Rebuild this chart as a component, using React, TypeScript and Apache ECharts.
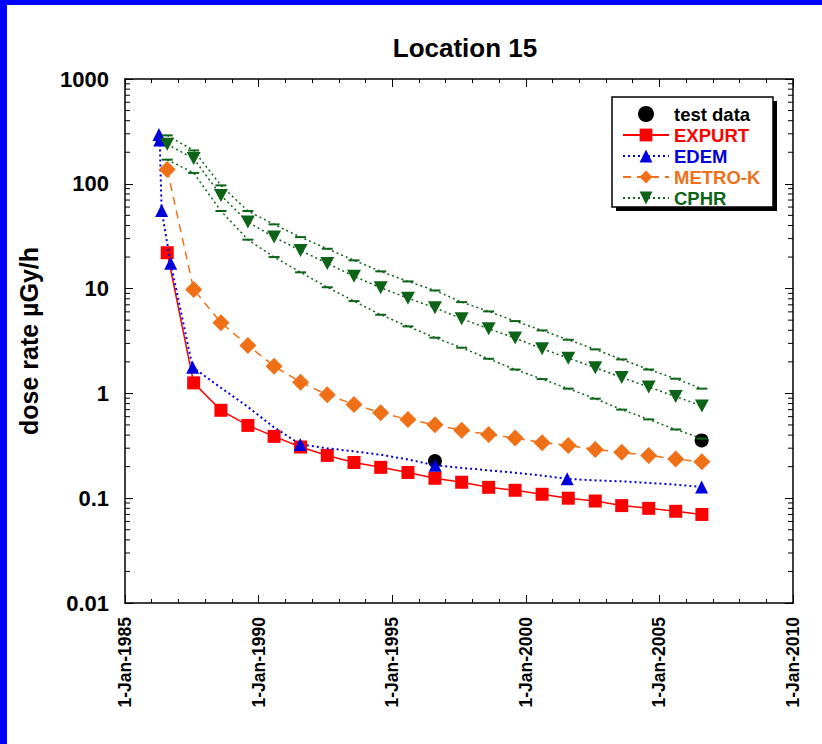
import React, { useEffect, useRef } from "react";
import * as echarts from "echarts";

// ---- data ----
const sampleYears = [
  1986.58, 1987.57, 1988.59, 1989.6, 1990.58, 1991.57, 1992.57, 1993.57, 1994.57, 1995.59,
  1996.6, 1997.6, 1998.61, 1999.6, 2000.61, 2001.59, 2002.6, 2003.59, 2004.6, 2005.61, 2006.59,
];
const expurt = [
  22, 1.26, 0.69, 0.495, 0.389, 0.308, 0.256, 0.219, 0.197, 0.176, 0.155, 0.142, 0.127, 0.119,
  0.109, 0.1, 0.094, 0.085, 0.08, 0.075, 0.07,
];
const metroK = [
  137, 9.8, 4.73, 2.87, 1.82, 1.28, 0.97, 0.785, 0.654, 0.565, 0.502, 0.444, 0.406, 0.375, 0.339,
  0.319, 0.292, 0.274, 0.256, 0.236, 0.223,
];
const cphr = [
  238, 174, 77.5, 43.1, 31, 23.1, 17.4, 13.1, 10.2, 8.1, 6.57, 5.16, 4.14, 3.37, 2.67, 2.17, 1.76,
  1.42, 1.15, 0.935, 0.757,
];
const cphrUpper = [
  290, 208, 96.6, 55, 41, 31, 24, 18.6, 14.6, 11.7, 9.6, 7.43, 6.06, 4.9, 3.99, 3.25, 2.63, 2.11,
  1.69, 1.38, 1.11,
];
const cphrLower = [
  170, 127, 55, 29.3, 20, 14.3, 10.3, 7.6, 5.63, 4.36, 3.4, 2.73, 2.14, 1.69, 1.37, 1.11, 0.89,
  0.7, 0.565, 0.453, 0.37,
];
const edemYears = [
  1986.27, 1986.3, 1986.37, 1986.71, 1987.53, 1988.55, 1989.55, 1990.55, 1991.56, 1992.56, 1993.56,
  1994.56, 1995.56, 1996.61, 1997.56, 1998.56, 1999.56, 2000.56, 2001.55, 2002.56, 2003.56,
  2004.56, 2005.56, 2006.58,
];
const edem = [
  295, 262, 55.7, 17.5, 1.78, 1.15, 0.76, 0.48, 0.326, 0.3, 0.28, 0.26, 0.235, 0.206, 0.195, 0.185,
  0.175, 0.165, 0.153, 0.148, 0.145, 0.14, 0.135, 0.128,
];
const edemMarked = [
  true, true, true, true, true, false, false, false, true, false, false, false, false, true, false,
  false, false, false, true, false, false, false, false, true,
];
const testYears = [1996.6, 2006.58];
const testData = [0.226, 0.356];

const yTickLabels = ["0.01", "0.1", "1", "10", "100", "1000"];
const minorTickValues = [
  0.02, 0.03, 0.04, 0.05, 0.06, 0.07, 0.08, 0.09, 0.2, 0.3, 0.4, 0.5, 0.6, 0.7, 0.8, 0.9, 2, 3, 4,
  5, 6, 7, 8, 9, 20, 30, 40, 50, 60, 70, 80, 90, 200, 300, 400, 500, 600, 700, 800, 900,
];

const X_MIN = 1985;
const X_MAX = 2010;

const FONT = "'Liberation Sans', Arial, sans-serif";
const RED = "#ff0000";
const BLUE = "#0000dd";
const ORANGE = "#f07018";
const GREEN = "#0d6418";

export default function App() {
  const ref = useRef<HTMLDivElement>(null);

  useEffect(() => {
    if (!ref.current) return;
    const chart = echarts.init(ref.current, undefined, { renderer: "svg" });

    const pair = (xs: number[], ys: number[]) => xs.map((x, i) => [x, ys[i]]);

    const xAxisBase = {
      type: "value" as const,
      min: X_MIN,
      max: X_MAX,
      interval: 5,
      splitLine: { show: false },
      axisLine: { show: true, onZero: false, lineStyle: { color: "#000", width: 1.5 } },
      axisTick: { show: true, inside: true, length: 8, lineStyle: { color: "#000", width: 1 } },
      minorTick: { show: true, splitNumber: 5, length: 4, lineStyle: { color: "#000", width: 1 } },
    };
    const yAxisBase = {
      type: "log" as const,
      logBase: 10,
      min: 0.01,
      max: 1000,
      splitLine: { show: false },
      axisLine: { show: true, onZero: false, lineStyle: { color: "#000", width: 1.5 } },
      axisTick: { show: true, inside: true, length: 8, lineStyle: { color: "#000", width: 1 } },
    };

    chart.setOption({
      animation: false,
      backgroundColor: "#fff",
      title: {
        text: "Location 15",
        left: 460,
        top: 30,
        textAlign: "center",
        textStyle: { fontFamily: FONT, fontWeight: "bold", fontSize: 26, color: "#000" },
      },
      grid: { left: 125, top: 79, right: 29, bottom: 141, containLabel: false },
      xAxis: [
        {
          ...xAxisBase,
          position: "bottom",
          axisLabel: {
            rotate: 90,
            margin: 14,
            fontFamily: FONT,
            fontWeight: "bold",
            fontSize: 17.5,
            color: "#000",
            formatter: (v: number) => "1-Jan-" + Math.round(v),
          },
        },
        { ...xAxisBase, position: "top", axisLabel: { show: false } },
      ],
      yAxis: [
        {
          ...yAxisBase,
          position: "left",
          name: "dose rate µGy/h",
          nameLocation: "middle",
          nameGap: 84,
          nameTextStyle: { fontFamily: FONT, fontWeight: "bold", fontSize: 25, color: "#000" },
          axisLabel: {
            margin: 16,
            fontFamily: FONT,
            fontWeight: "bold",
            fontSize: 22,
            color: "#000",
            formatter: (v: number) => yTickLabels[Math.round(Math.log10(v)) + 2] ?? "",
          },
        },
        { ...yAxisBase, position: "right", axisLabel: { show: false } },
      ],
      legend: {
        data: [
          { name: "test data", textStyle: { color: "#000" } },
          { name: "EXPURT", textStyle: { color: RED } },
          { name: "EDEM", textStyle: { color: BLUE } },
          { name: "METRO-K", textStyle: { color: ORANGE } },
          { name: "CPHR", textStyle: { color: GREEN } },
        ],
        orient: "vertical",
        left: 622,
        top: 104.5,
        itemWidth: 46,
        itemHeight: 16,
        itemGap: 2,
        padding: 0,
        selectedMode: false,
        z: 10,
        textStyle: { fontFamily: FONT, fontWeight: "bold", fontSize: 18.5 },
      },
      graphic: [
        { type: "rect", z: 0, silent: true, shape: { x: 0, y: 0, width: 7, height: 744 }, style: { fill: "#0000ff" } },
        { type: "rect", z: 0, silent: true, shape: { x: 0, y: 0, width: 822, height: 5 }, style: { fill: "#0000ff" } },
        { type: "rect", z: 8, silent: true, shape: { x: 616, y: 101, width: 161, height: 110 }, style: { fill: "#000" } },
        {
          type: "rect",
          z: 9,
          silent: true,
          shape: { x: 612, y: 97, width: 161, height: 110 },
          style: { fill: "#fff", stroke: "#000", lineWidth: 1.5 },
        },
      ],
      series: [
        {
          name: "test data",
          type: "scatter",
          symbol: "circle",
          symbolSize: 14,
          itemStyle: { color: "#000", opacity: 1 },
          data: pair(testYears, testData),
          z: 2,
        },
        {
          name: "EXPURT",
          type: "line",
          symbol: "rect",
          symbolSize: 13,
          itemStyle: { color: RED },
          lineStyle: { color: RED, width: 1.5, type: "solid" },
          data: pair(sampleYears, expurt),
          z: 3,
        },
        {
          name: "EDEM",
          type: "line",
          symbol: "triangle",
          symbolSize: 13,
          itemStyle: { color: BLUE },
          lineStyle: { color: BLUE, width: 2, type: [2, 3] },
          data: edemYears.map((x, i) =>
            edemMarked[i] ? { value: [x, edem[i]] } : { value: [x, edem[i]], symbol: "none" }
          ),
          z: 4,
        },
        {
          name: "METRO-K",
          type: "line",
          symbol: "diamond",
          symbolSize: 17,
          itemStyle: { color: ORANGE },
          lineStyle: { color: ORANGE, width: 1.5, type: [8, 6] },
          data: pair(sampleYears, metroK),
          z: 5,
        },
        {
          name: "CPHR",
          type: "line",
          symbol: "path://M0,0L10,0L5,9Z",
          symbolSize: [14, 13],
          itemStyle: { color: GREEN },
          lineStyle: { color: GREEN, width: 1.5, type: [2, 3] },
          data: pair(sampleYears, cphr),
          z: 6,
        },
        {
          name: "CPHR upper",
          type: "line",
          symbol: "rect",
          symbolSize: [11, 2],
          itemStyle: { color: GREEN },
          lineStyle: { color: GREEN, width: 1.5, type: [2, 3] },
          data: pair(sampleYears, cphrUpper),
          z: 6,
        },
        {
          name: "CPHR lower",
          type: "line",
          symbol: "rect",
          symbolSize: [11, 2],
          itemStyle: { color: GREEN },
          lineStyle: { color: GREEN, width: 1.5, type: [2, 3] },
          data: pair(sampleYears, cphrLower),
          z: 6,
        },
        {
          name: "minor ticks",
          type: "custom",
          silent: true,
          z: 7,
          data: minorTickValues.map((v) => [X_MIN, v]),
          renderItem: (_params: any, api: any) => {
            const v = api.value(1);
            const p0 = api.coord([X_MIN, v]);
            const p1 = api.coord([X_MAX, v]);
            return {
              type: "group",
              children: [
                {
                  type: "line",
                  shape: { x1: p0[0], y1: p0[1], x2: p0[0] + 5, y2: p0[1] },
                  style: { stroke: "#000", lineWidth: 1 },
                },
                {
                  type: "line",
                  shape: { x1: p1[0] - 5, y1: p1[1], x2: p1[0], y2: p1[1] },
                  style: { stroke: "#000", lineWidth: 1 },
                },
              ],
            };
          },
        },
      ],
    });

    return () => chart.dispose();
  }, []);

  return (
    <div
      ref={ref}
      style={{ position: "absolute", left: 0, top: 0, width: 822, height: 744 }}
    />
  );
}
